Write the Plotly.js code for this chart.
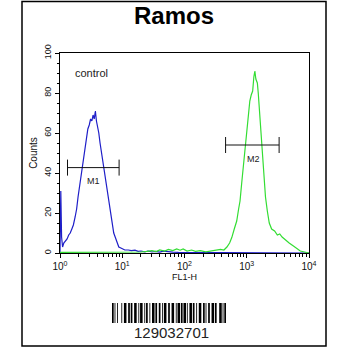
<!DOCTYPE html>
<html>
<head>
<meta charset="utf-8">
<script src="https://cdn.plot.ly/plotly-3.0.1.min.js"></script>
<style>
html,body{margin:0;padding:0;background:#fff;}
#chart{width:350px;height:350px;}
</style>
</head>
<body>
<div id="chart"></div>
<script>
// ---- data ----
const chartTitle = 'Ramos';
const xTitle = 'FL1-H';
const yTitle = 'Counts';
const xTickVals = [1, 10, 100, 1000, 10000];
const xTickText = ['10<sup>0</sup>', '10<sup>1</sup>', '10<sup>2</sup>', '10<sup>3</sup>', '10<sup>4</sup>'];
const yTickVals = [0, 20, 40, 60, 80, 100];

// control (blue) histogram
const controlX = [1.00,1.03,1.06,1.10,1.15,1.22,1.30,1.38,1.46,1.55,1.64,1.75,1.85,1.95,2.05,2.15,2.25,2.37,2.50,2.65,2.80,2.95,3.10,3.25,3.40,3.55,3.70,3.85,4.00,4.20,4.40,4.60,4.80,5.00,5.25,5.50,5.75,6.00,6.30,6.60,6.90,7.30,7.70,8.20,8.80,9.50,10.0,11.0,12.5,14,16,18,20,23,26,30,34,40,46,55,65,80,100,130,180,250,10000];
const controlY = [0,31,8,3,5,6,7,9,10,12,14,18,22,28,33,38,42,45,52,57,62,64,67,66,69,67,71,66,64,60,55,51,47,43,39,35,30,26,21,17,13,10,8,5,3,2.5,2,1.5,1.5,1.2,1.4,0.8,1.0,0.6,1.0,0.5,0.8,0.4,0.9,0.5,0.4,0.3,0.3,0.2,0.1,0,0];

// Ramos sample (green) histogram
const sampleX = [1,2,5,10,15,20,25,30,35,40,48,55,65,75,85,95,110,130,150,180,220,270,330,380,430,480,530,575,630,690,740,780,830,880,940,1000,1060,1120,1180,1245,1300,1350,1400,1480,1530,1585,1660,1740,1820,1900,2000,2140,2300,2510,2800,3100,3390,3700,4000,4370,4800,5620,6300,7240,8500,10000];
const sampleY = [0.3,0.3,0.2,0.3,0.4,0.5,0.8,1.2,0.7,1.5,1.0,1.8,1.2,2.0,1.4,2.0,1.0,1.5,0.8,1.2,0.6,1.0,1.3,1.8,1.5,3,5,7.7,12,16,22,26,35,43,53,63,70,76,79,81,88,91,87,85,80,73,65,56,46,36,28,21,15,12,11,9,9.5,8,7,6,5,3.5,2.5,1,0.5,0];

// marker gates
const gateNames = ['M1', 'M2'];
const gateLow = [1.32, 457];
const gateHigh = [8.9, 3311];
const gateLevel = [42.7, 54];
const gateHalfTick = 4;
const gateLabelX = [3.4, 1260];
const gateLabelY = [36, 47];

const controlLabel = 'control';

// barcode (Code 128 module widths: bar, space, bar, ...)
const barcodeText = '129032701';
const barcodeWidths = '211214123221223211321122123122221132223211312131123122123221122231' + '2331112';

// ---- build ----
const traces = [];
traces.push({x: controlX, y: controlY, type: 'scatter', mode: 'lines',
  line: {color: '#1e1ec8', width: 1.2}, hoverinfo: 'skip', showlegend: false});
traces.push({x: sampleX, y: sampleY, type: 'scatter', mode: 'lines',
  line: {color: '#33dd33', width: 1.2}, hoverinfo: 'skip', showlegend: false});

gateNames.forEach((n, i) => {
  const a = gateLow[i], b = gateHigh[i], y = gateLevel[i], h = gateHalfTick;
  traces.push({x: [a, a, null, a, b, null, b, b],
    y: [y - h, y + h, null, y, y, null, y - h, y + h],
    type: 'scatter', mode: 'lines', line: {color: '#111', width: 1},
    hoverinfo: 'skip', showlegend: false});
});

// barcode bars
const bx = [], bw = [], by = [];
let pos = 0;
for (let i = 0; i < barcodeWidths.length; i++) {
  const w = parseInt(barcodeWidths[i], 10);
  if (i % 2 === 0) { bx.push(pos + w / 2); bw.push(w); by.push(1); }
  pos += w;
}
traces.push({x: bx, y: by, width: bw, type: 'bar', xaxis: 'x2', yaxis: 'y2',
  marker: {color: '#000', line: {width: 0}}, hoverinfo: 'skip', showlegend: false});

const W = 350, H = 350;
const annotations = [
  {text: controlLabel, x: Math.log10(1.6), y: 90, xref: 'x', yref: 'y', xanchor: 'left', yanchor: 'middle',
   showarrow: false, font: {size: 11, color: '#222'}},
  {text: barcodeText, x: 171 / W, y: 1 - 332 / H, xref: 'paper', yref: 'paper', xanchor: 'center', yanchor: 'middle',
   showarrow: false, font: {size: 15, color: '#222'}}
];
gateNames.forEach((n, i) => {
  annotations.push({text: n, x: Math.log10(gateLabelX[i]), y: gateLabelY[i], xref: 'x', yref: 'y',
    xanchor: 'center', yanchor: 'middle', showarrow: false, font: {size: 9, color: '#222'}});
});

const layout = {
  width: W, height: H,
  margin: {l: 0, r: 0, t: 0, b: 0},
  paper_bgcolor: '#fff', plot_bgcolor: '#fff',
  font: {family: 'Liberation Sans, Arial, sans-serif', color: '#111'},
  showlegend: false,
  title: {text: '<b>' + chartTitle + '</b>', x: 174 / W, y: 1 - 16 / H, xref: 'container', yref: 'container',
    xanchor: 'center', yanchor: 'middle', font: {size: 24, color: '#000'}},
  xaxis: {type: 'log', range: [0, 4], domain: [60 / W, 309 / W],
    tickvals: xTickVals, ticktext: xTickText, ticks: 'outside', ticklen: 4, tickcolor: '#000',
    minor: {dtick: 'D1', ticks: 'outside', ticklen: 2.5, tickcolor: '#000', showgrid: false},
    showgrid: false, zeroline: false, showline: true, linecolor: '#000', linewidth: 1, mirror: true,
    tickfont: {size: 10, color: '#111'},
    title: {text: xTitle, font: {size: 9, color: '#111'}, standoff: 2}, anchor: 'y'},
  yaxis: {range: [0, 100], domain: [1 - 253 / H, 1 - 53 / H],
    tickvals: yTickVals, ticks: 'outside', ticklen: 4, tickcolor: '#000', tickangle: -90,
    minor: {dtick: 5, ticks: 'outside', ticklen: 2.5, tickcolor: '#000', showgrid: false},
    showgrid: false, zeroline: false, showline: true, linecolor: '#000', linewidth: 1, mirror: true,
    tickfont: {size: 9, color: '#111'},
    title: {text: yTitle, font: {size: 10, color: '#111'}, standoff: 3}, anchor: 'x'},
  xaxis2: {domain: [112 / W, 226 / W], range: [0, pos], visible: false, fixedrange: true, anchor: 'y2'},
  yaxis2: {domain: [1 - 323 / H, 1 - 303 / H], range: [0, 1], visible: false, fixedrange: true, anchor: 'x2'},
  annotations: annotations,
  shapes: [
    {type: 'rect', xref: 'paper', yref: 'paper', x0: 22 / W, x1: 326 / W, y0: 1 - 346 / H, y1: 1 - 1.5 / H,
     line: {color: '#000', width: 1.5}, fillcolor: 'rgba(0,0,0,0)'}
  ]
};

Plotly.newPlot('chart', traces, layout, {staticPlot: true, displayModeBar: false});
</script>
</body>
</html>
